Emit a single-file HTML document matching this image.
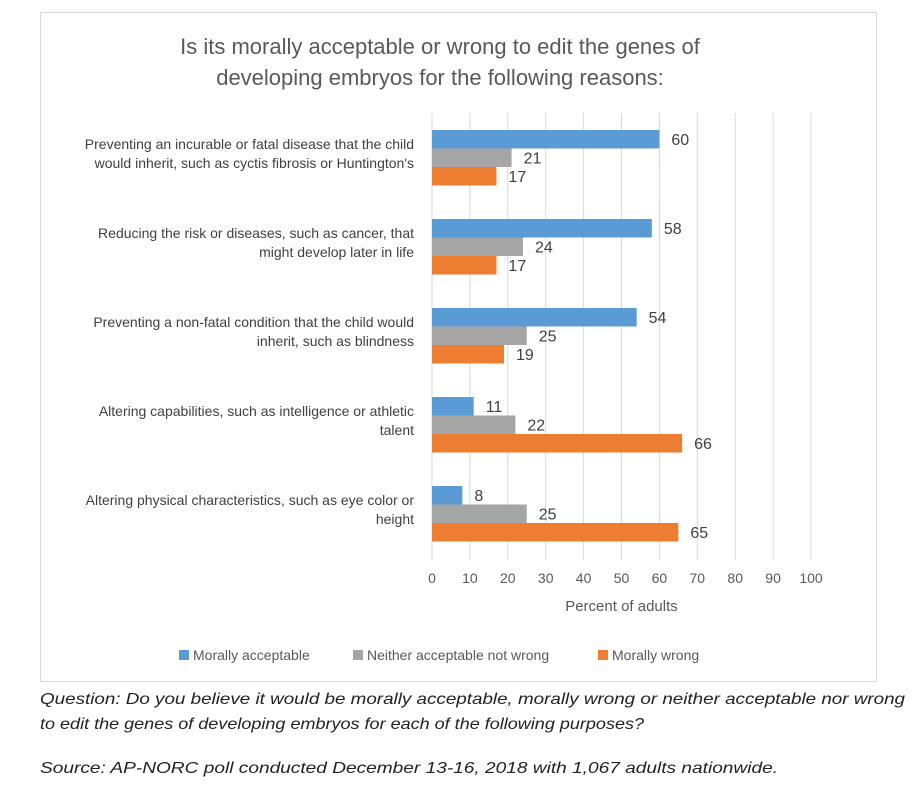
<!DOCTYPE html>
<html><head><meta charset="utf-8"><style>
body{margin:0;background:#fff;width:921px;height:794px;overflow:hidden;font-family:"Liberation Sans",sans-serif}
</style></head><body>
<div style="position:absolute;left:40px;top:12px;width:835px;height:668px;border:1px solid #d9d9d9"></div>
<svg id="c" width="921" height="794" style="position:absolute;left:0;top:0" font-family="Liberation Sans, sans-serif">
<text x="40" y="704" font-size="16" font-style="italic" fill="#222" textLength="865" lengthAdjust="spacingAndGlyphs">Question: Do you believe it would be morally acceptable, morally wrong or neither acceptable nor wrong</text>
<text x="40" y="729" font-size="16" font-style="italic" fill="#222" textLength="604" lengthAdjust="spacingAndGlyphs">to edit the genes of developing embryos for each of the following purposes?</text>
<text x="40" y="773" font-size="16" font-style="italic" fill="#222" textLength="738" lengthAdjust="spacingAndGlyphs">Source: AP-NORC poll conducted December 13-16, 2018 with 1,067 adults nationwide.</text>
</svg>
<script>
const categories=[["Preventing an incurable or fatal disease that the child","would inherit, such as cyctis fibrosis or Huntington's"],["Reducing the risk or diseases, such as cancer, that","might develop later in life"],["Preventing a non-fatal condition that the child would","inherit, such as blindness"],["Altering capabilities, such as intelligence or athletic","talent"],["Altering physical characteristics, such as eye color or","height"]];
const acceptable=[60,58,54,11,8];
const neither=[21,24,25,22,25];
const wrong=[17,17,19,66,65];
const ticks=[0,10,20,30,40,50,60,70,80,90,100];
const seriesNames=["Morally acceptable","Neither acceptable not wrong","Morally wrong"];
const colors=["#5b9bd5","#a5a5a5","#ed7d31"];
const svg=document.getElementById('c');const NS='http://www.w3.org/2000/svg';
function mk(t,a,txt){const e=document.createElementNS(NS,t);for(const k in a)e.setAttribute(k,a[k]);if(txt!==undefined)e.textContent=txt;svg.appendChild(e);return e;}
const x=v=>432+v*3.79;const gy=i=>130+i*89;const bh=18.5;
let t=mk('text',{x:440,y:54,'text-anchor':'middle','font-size':22,fill:'#595959'},'Is its morally acceptable or wrong to edit the genes of');

t=mk('text',{x:440,y:85,'text-anchor':'middle','font-size':22,fill:'#595959'},'developing embryos for the following reasons:');

ticks.forEach(v=>{let l=mk('line',{x1:x(v),x2:x(v),y1:113,y2:560,stroke:'#d9d9d9','stroke-width':1});

let tt=mk('text',{x:x(v),y:583,'text-anchor':'middle','font-size':14,fill:'#595959'},v);
});
t=mk('text',{x:x(50),y:611,'text-anchor':'middle','font-size':15,fill:'#595959'},'Percent of adults');

const series=[acceptable,neither,wrong];
categories.forEach((c,i)=>{
 c.forEach((line,j)=>{let l=mk('text',{x:414,y:gy(i)+19+j*19,'text-anchor':'end','font-size':14,fill:'#404040'},line);
 });
 series.forEach((s,k)=>{const y=gy(i)+k*bh;
  let r=mk('rect',{x:x(0),y:y,width:x(s[i])-x(0),height:bh,fill:colors[k]});
  
  let v=mk('text',{x:x(s[i])+12,y:y+15,'font-size':16,fill:'#404040'},s[i]);
  });
});
const lx=[179,353,598];
seriesNames.forEach((n,k)=>{let r=mk('rect',{x:lx[k],y:650,width:10,height:10,fill:colors[k]});

let l=mk('text',{x:lx[k]+14,y:660,'font-size':14,fill:'#595959'},n);
});
</script>
</body></html>
